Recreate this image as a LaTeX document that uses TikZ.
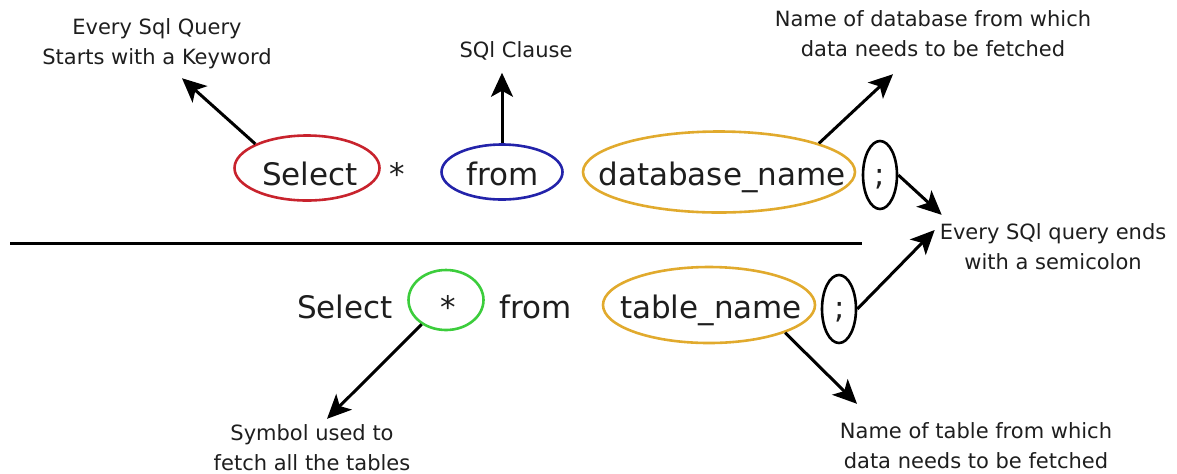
\documentclass[tikz,border=0pt]{standalone}
\usepackage{fontspec}
\setmainfont{DejaVu Sans}
\usepackage{xcolor}
\usetikzlibrary{shapes.geometric, arrows.meta, calc}

\definecolor{selred}{RGB}{200,35,45}
\definecolor{fromblue}{RGB}{35,35,170}
\definecolor{nameorange}{RGB}{225,170,45}
\definecolor{stargreen}{RGB}{60,205,60}
\definecolor{ink}{RGB}{30,30,30}

\tikzset{
  word/.style={font=\fontsize{15.5}{18}\selectfont, text=ink, anchor=base},
  note/.style={font=\fontsize{10.5}{15}\selectfont, text=ink, align=center},
  ring/.style={draw=#1, ellipse, line width=1.3pt, inner sep=0pt},
  pointer/.style={-{Stealth[length=12pt,width=11pt,inset=3pt]}, line width=1.5pt},
}

\begin{document}
\begin{tikzpicture}[x=0.5pt,y=-0.5pt]
    \useasboundingbox (0,0) rectangle (1177,473);

    % first query
    \node[word] (sel) at (310,185) {Select};
    \node[ring=selred, minimum width=72.5pt, minimum height=32.5pt] (selr) at (307,168) {};
    \node[word] (star) at (397,185) {*};
    \node[word] (frm) at (503,185) {from};
    \node[ring=fromblue, minimum width=60.5pt, minimum height=27.5pt] (frmr) at (502,172) {};
    \node[word] (db) at (722,185) {database\_name};
    \node[ring=nameorange, minimum width=136pt, minimum height=40.5pt] (dbr) at (719,172) {};
    \node[word] (semi) at (880,185) {;};
    \node[ring=black, minimum width=17pt, minimum height=34pt] (semir) at (880,175) {};

    % divider
    \coordinate (la) at (10,243);
    \coordinate (lb) at (862,243);
    \draw[line width=1.5pt] (la) -- (lb);

    % second query
    \node[word] (sel2) at (345,318) {Select};
    \node[word] (all) at (448,318) {*};
    \node[ring=stargreen, minimum width=37.5pt, minimum height=30pt] (allr) at (446,300) {};
    \node[word] (frm2) at (536,318) {from};
    \node[word] (tbl) at (711,318) {table\_name};
    \node[ring=nameorange, minimum width=106pt, minimum height=38pt] (tblr) at (709,305) {};
    \node[word] (semi2) at (840,318) {;};
    \node[ring=black, minimum width=17pt, minimum height=34pt] (semi2r) at (839,309) {};

    % notes
    \node[note] (kw) at (157,44) {Every Sql Query\\Starts with a Keyword};
    \node[note, anchor=base] (cl) at (516,57) {SQl Clause};
    \node[note] (dbl) at (933,34) {Name of database from which\\data needs to be fetched};
    \node[note] (sc) at (1053,247) {Every SQl query ends\\with a semicolon};
    \node[note] (sym) at (312,448) {Symbol used to\\fetch all the tables};
    \node[note] (tbll) at (976,446) {Name of table from which\\data needs to be fetched};

    \draw[pointer] (selr.155) -- ($(kw.south)+(25,2)$);
    \draw[pointer] (frmr.north) -- ($(cl.south)+(-14,6)$);
    \draw[pointer] (dbr.16) -- ($(dbl.south)+(-40,10)$);
    \draw[pointer] (semir.east) -- ($(sc.north west)+(9,-2)$);
    \draw[pointer] (semi2r.east) -- ($(sc.west)+(2,-17)$);
    \draw[pointer] (allr.225) -- ($(sym.north)+(15,1)$);
    \draw[pointer] (tblr.-20) -- ($(tbll.north)+(-119,-12)$);
  \end{tikzpicture}
\end{document}
